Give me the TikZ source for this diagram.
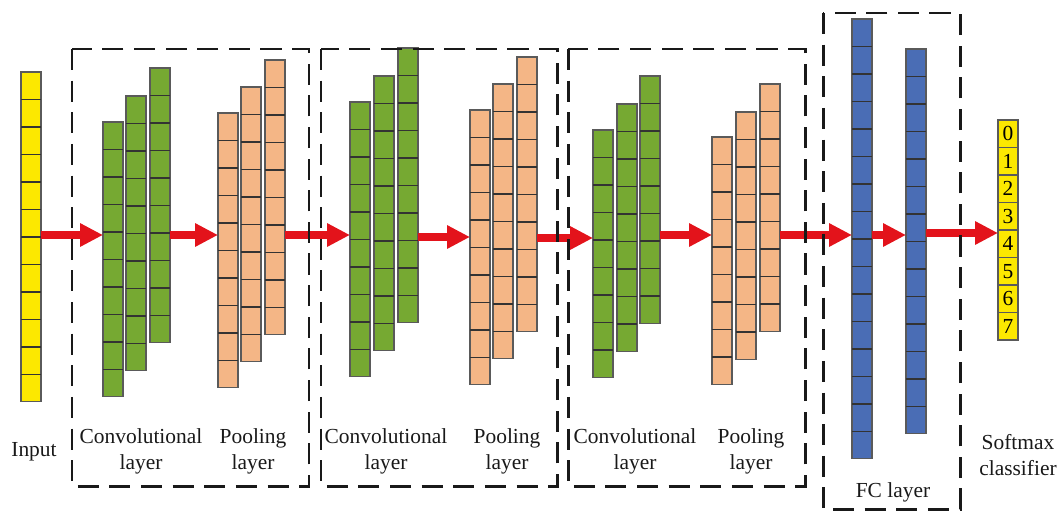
\documentclass[tikz,border=0pt]{standalone}
\usepackage{fontspec}
\setmainfont{Liberation Serif}
\usepackage{xcolor}
\usepackage{tikz}
\usetikzlibrary{arrows.meta, positioning, calc}

\definecolor{inyellow}{HTML}{FCE800}
\definecolor{convgreen}{HTML}{76A932}
\definecolor{poolorange}{HTML}{F4B686}
\definecolor{fcblue}{HTML}{4A6DB5}
\definecolor{flowred}{HTML}{E3131B}
\definecolor{cellline}{HTML}{5A5A5A}

% one column of cells: name, style, x, top y, number of cells
\newcommand{\cellcol}[5]{%
  \node[#2, minimum height=#5*0.55cm, anchor=north west] (#1) at (#3,#4) {};
  \pgfmathtruncatemacro{\lastcell}{#5-1}
  \foreach \k in {1,...,\lastcell}
    \draw[celldiv] (#1.north west) ++(0,\k*27.5) -- ++(20,0);
}

\begin{document}
\begin{tikzpicture}[
          x=0.02cm, y=-0.02cm,
          colbox/.style={rectangle, draw=cellline, line width=0.6pt, minimum width=0.4cm, inner sep=0pt, outer sep=0pt},
          incol/.style={colbox, fill=inyellow},
          convcol/.style={colbox, fill=convgreen},
          poolcol/.style={colbox, fill=poolorange},
          fccol/.style={colbox, fill=fcblue},
          outcell/.style={colbox, fill=inyellow, minimum height=0.55cm, font=\fontsize{12.2}{14}\selectfont},
          celldiv/.style={draw=black!80, line width=0.6pt},
          flow/.style={draw=flowred, line width=4.9pt, -{Triangle[length=13pt, width=12.5pt]}},
          stagebox/.style={draw=black!90, line width=1.7pt, dash pattern=on 12pt off 6pt},
          lbl/.style={align=center, inner sep=0pt, text=black!90, font=\fontsize{12.2}{14.8}\selectfont}
        ]
  \useasboundingbox (0,0) rectangle (1058,514);

  % input
  \cellcol{in}{incol}{21}{72}{12}

  % first convolution + pooling
  \cellcol{c11}{convcol}{103}{122}{10}
  \cellcol{c12}{convcol}{126}{96}{10}
  \cellcol{c13}{convcol}{150}{68}{10}
  \cellcol{p11}{poolcol}{218}{113}{10}
  \cellcol{p12}{poolcol}{241}{87}{10}
  \cellcol{p13}{poolcol}{265}{60}{10}

  % second convolution + pooling
  \cellcol{c21}{convcol}{350}{102}{10}
  \cellcol{c22}{convcol}{374}{76}{10}
  \cellcol{c23}{convcol}{398}{48}{10}
  \cellcol{p21}{poolcol}{470}{110}{10}
  \cellcol{p22}{poolcol}{493}{84}{10}
  \cellcol{p23}{poolcol}{517}{57}{10}

  % third convolution + pooling
  \cellcol{c31}{convcol}{593}{130}{9}
  \cellcol{c32}{convcol}{617}{104}{9}
  \cellcol{c33}{convcol}{640}{76}{9}
  \cellcol{p31}{poolcol}{712}{137}{9}
  \cellcol{p32}{poolcol}{736}{112}{9}
  \cellcol{p33}{poolcol}{760}{84}{9}

  % fully connected
  \cellcol{f1}{fccol}{852}{19}{16}
  \cellcol{f2}{fccol}{906}{49}{14}

  % softmax outputs
  \foreach \d in {0,...,7}
    \node[outcell, anchor=north west] (o\d) at (998,120+\d*27.5) {\d};

  % arrows
  \draw[flow] (in.east |- 0,235) -- (c11.west |- 0,235);
  \draw[flow] (c13.east |- 0,235) -- (p11.west |- 0,235);
  \draw[flow] (p13.east |- 0,235) -- (c21.west |- 0,235);
  \draw[flow] (c23.east |- 0,237) -- (p21.west |- 0,237);
  \draw[flow] (p23.east |- 0,238) -- (c31.west |- 0,238);
  \draw[flow] (c33.east |- 0,235) -- (p31.west |- 0,235);
  \draw[flow] (p33.east |- 0,235) -- (f1.west |- 0,235);
  \draw[flow] (f1.east |- 0,235) -- (f2.west |- 0,235);
  \draw[flow] (f2.east |- 0,233) -- (o4.west |- 0,233);

  % dashed stages
  \draw[stagebox] (72,49) rectangle (309,486);
  \draw[stagebox] (321,49) rectangle (557,486);
  \draw[stagebox] (568,49) rectangle (805,486);
  \draw[stagebox] (823,13) rectangle (960,509);

  % labels
  \node[lbl] (lin) at (34,452) {Input};
  \node[lbl] (lc1) at (141,451) {Convolutional\\layer};
  \node[lbl] (lp1) at (253,451) {Pooling\\layer};
  \node[lbl] (lc2) at (386,451) {Convolutional\\layer};
  \node[lbl] (lp2) at (507,451) {Pooling\\layer};
  \node[lbl] (lc3) at (635,451) {Convolutional\\layer};
  \node[lbl] (lp3) at (751,451) {Pooling\\layer};
  \node[lbl] (lfc) at (893,492) {FC layer};
  \node[lbl] (lsm) at (1018,455) {Softmax\\classifier};
\end{tikzpicture}
\end{document}
